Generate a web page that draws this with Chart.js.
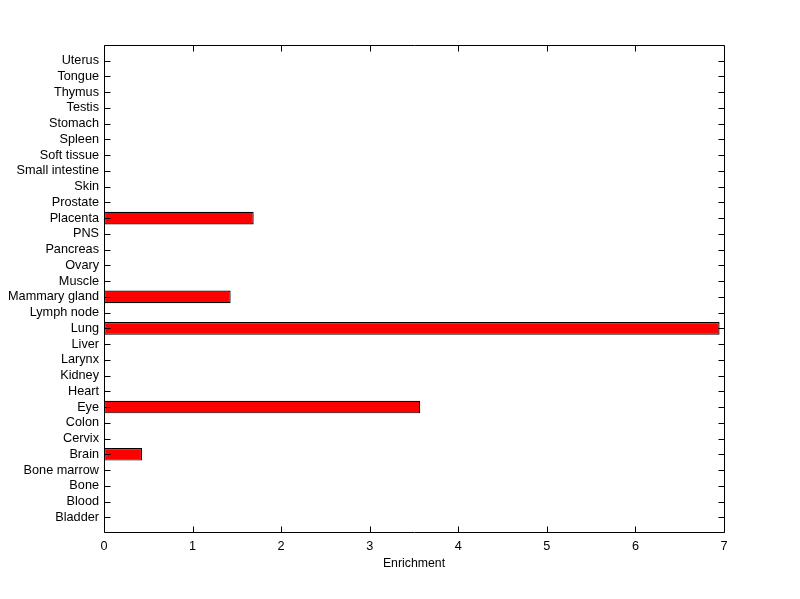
<!DOCTYPE html>
<html>
<head>
<meta charset="utf-8">
<script src="https://cdn.jsdelivr.net/npm/chart.js@4/dist/chart.umd.min.js"></script>
<style>
html,body{margin:0;padding:0;background:#fff;}
#wrap{width:800px;height:599px;position:relative;}
</style>
</head>
<body>
<div id="wrap"><canvas id="c" width="800" height="599"></canvas></div>
<script>
const categories = ['Bladder','Blood','Bone','Bone marrow','Brain','Cervix','Colon','Eye','Heart','Kidney','Larynx','Liver','Lung','Lymph node','Mammary gland','Muscle','Ovary','Pancreas','PNS','Placenta','Prostate','Skin','Small intestine','Soft tissue','Spleen','Stomach','Testis','Thymus','Tongue','Uterus'];
const enrichment = [0,0,0,0,0.43,0,0,3.57,0,0,0,0,6.95,0,1.43,0,0,0,0,1.69,0,0,0,0,0,0,0,0,0,0];
const xTicks = [0,1,2,3,4,5,6,7];
const xTitle = 'Enrichment';

const FONT = {family:'"Liberation Sans", Arial, Helvetica, sans-serif', size:12.7};

const boxPlugin = {
  id:'boxPlugin',
  afterDraw(chart){
    const ctx = chart.ctx, a = chart.chartArea;
    const xs = chart.scales.x, ys = chart.scales.y;
    ctx.save();
    ctx.strokeStyle = '#000';
    ctx.lineWidth = 1;
    const L = Math.round(a.left)+0.5, R = Math.round(a.right)+0.5, T = Math.round(a.top)+0.5, B = Math.round(a.bottom)-0.5;
    ctx.beginPath();
    ctx.rect(L, T, R-L, B-T);
    ctx.stroke();
    const tl = 6;
    ctx.beginPath();
    categories.forEach((c,i)=>{
      const y = Math.round(ys.getPixelForValue(i+1))+0.5;
      ctx.moveTo(L, y); ctx.lineTo(L+tl, y);
      ctx.moveTo(R, y); ctx.lineTo(R-tl, y);
    });
    xTicks.forEach(v=>{
      const x = Math.round(xs.getPixelForValue(v))+0.5;
      ctx.moveTo(x, B); ctx.lineTo(x, B-tl);
      ctx.moveTo(x, T); ctx.lineTo(x, T+tl);
    });
    ctx.stroke();
    ctx.restore();
  }
};

new Chart(document.getElementById('c'), {
  type:'bar',
  data:{
    datasets:[{
      data: enrichment.map((v,i)=>({x:v, y:i+1})),
      backgroundColor:'#ff0000',
      borderColor:'#000000',
      borderWidth:1.2,
      borderSkipped:false,
      barPercentage:0.8,
      categoryPercentage:1.0
    }]
  },
  options:{
    indexAxis:'y',
    responsive:false,
    animation:false,
    devicePixelRatio:1,
    layout:{padding:{top:45,right:76,bottom:0,left:0}},
    plugins:{legend:{display:false},tooltip:{enabled:false}},
    scales:{
      x:{
        type:'linear', min:0, max:7,
        afterFit(s){ s.height = 66; },
        afterBuildTicks(s){ s.ticks = xTicks.map(v=>({value:v})); },
        grid:{display:false, drawTicks:false},
        border:{display:false},
        ticks:{color:'#000', font:FONT, padding:6, maxRotation:0},
        title:{display:true, text:xTitle, color:'#000', font:{family:FONT.family,size:12.3}, padding:{top:0,bottom:28}}
      },
      y:{
        type:'linear', min:0, max:31, offset:false,
        afterFit(s){ s.width = 104; },
        afterBuildTicks(s){ s.ticks = categories.map((c,i)=>({value:i+1})); },
        grid:{display:false, drawTicks:false, offset:false},
        border:{display:false},
        ticks:{color:'#000', font:FONT, padding:5, autoSkip:false,
          callback:(v)=>categories[v-1] || ''}
      }
    }
  },
  plugins:[boxPlugin]
});
</script>
</body>
</html>
